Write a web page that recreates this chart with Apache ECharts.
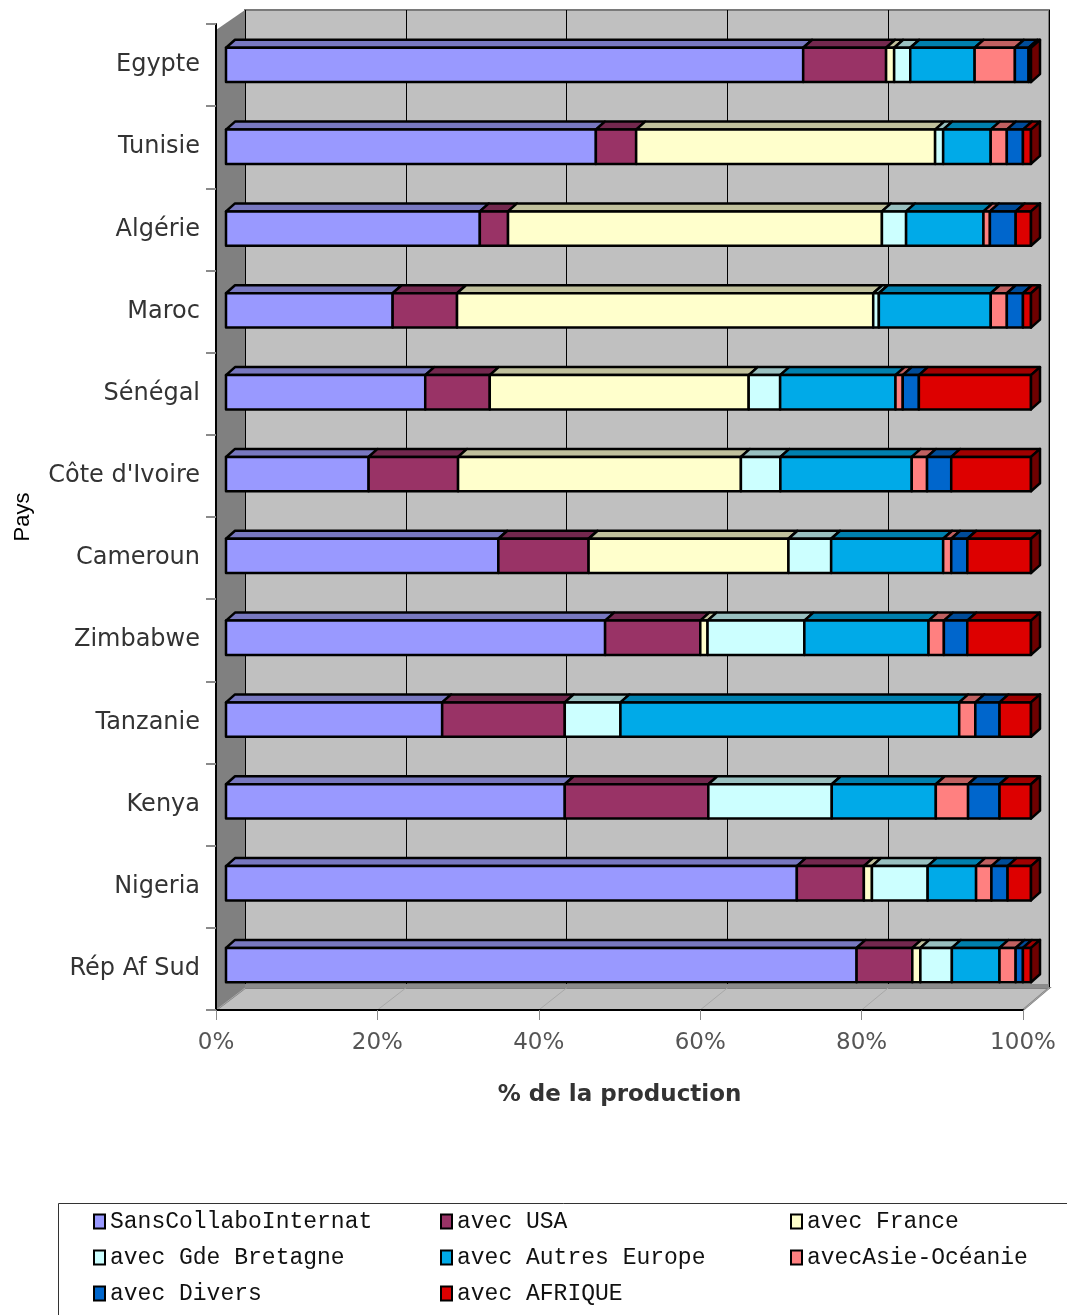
<!DOCTYPE html>
<html>
<head>
<meta charset="utf-8">
<title>Collaborations internationales par pays</title>
<script src="https://cdn.jsdelivr.net/npm/echarts@6/dist/echarts.min.js"></script>
<style>
  html, body { margin: 0; padding: 0; background: #ffffff; }
  #chart { width: 1067px; height: 1315px; }
</style>
</head>
<body>
<div id="chart"></div>
<script>
// ---- data ---------------------------------------------------------------
const categories = ['Egypte', 'Tunisie', 'Algérie', 'Maroc', 'Sénégal', "Côte d'Ivoire",
  'Cameroun', 'Zimbabwe', 'Tanzanie', 'Kenya', 'Nigeria', 'Rép Af Sud'];

const sansCollabo   = [71.7, 45.9, 31.5, 20.7, 24.7, 17.7, 33.8, 47.0, 26.8, 42.0, 70.7, 78.1];
const avecUSA       = [10.3,  5.0,  3.5,  8.0,  8.0, 11.1, 11.2, 11.8, 15.2, 17.8,  8.3,  6.9];
const avecFrance    = [ 1.0, 37.1, 46.4, 51.7, 32.1, 35.1, 24.8,  0.9,  0.0,  0.0,  1.0,  1.0];
const avecGdeBret   = [ 2.0,  1.0,  3.0,  0.7,  3.9,  4.9,  5.3, 12.0,  6.9, 15.3,  6.9,  3.9];
const avecAutresEur = [ 8.0,  5.9,  9.6, 13.9, 14.3, 16.3, 13.9, 15.4, 42.0, 12.9,  6.0,  5.9];
const avecAsieOce   = [ 5.0,  2.0,  0.8,  2.0,  0.9,  1.9,  1.0,  1.9,  2.0,  4.0,  1.9,  2.0];
const avecDivers    = [ 1.7,  2.0,  3.2,  2.0,  2.0,  3.0,  2.0,  2.9,  3.0,  3.9,  2.0,  0.9];
const avecAfrique   = [ 0.3,  1.0,  1.9,  1.0, 13.9,  9.9,  7.9,  7.9,  3.9,  3.9,  2.9,  1.0];

const xTicks = [0, 20, 40, 60, 80, 100];

// series: name, values, front / top / side colours
const seriesDefs = [
  { name: 'SansCollaboInternat', values: sansCollabo,   front: '#9999FF', top: '#7878C0', side: '#5a5a99' },
  { name: 'avec USA',            values: avecUSA,       front: '#993366', top: '#73284E', side: '#561d3a' },
  { name: 'avec France',         values: avecFrance,    front: '#FFFFCC', top: '#C0C09C', side: '#999975' },
  { name: 'avec Gde Bretagne',   values: avecGdeBret,   front: '#CCFFFF', top: '#99C0C0', side: '#739999' },
  { name: 'avec Autres Europe',  values: avecAutresEur, front: '#00AAE8', top: '#0080AE', side: '#005f82' },
  { name: 'avecAsie-Océanie',    values: avecAsieOce,   front: '#FF8080', top: '#C06060', side: '#994848' },
  { name: 'avec Divers',         values: avecDivers,    front: '#0066CC', top: '#004C99', side: '#003366' },
  { name: 'avec AFRIQUE',        values: avecAfrique,   front: '#DD0000', top: '#A00000', side: '#6E0000' }
];

// ---- layout -------------------------------------------------------------
const W = 1067, H = 1315;
const WALL  = { left: 245, right: 1049, top: 10, bottom: 988 };   // back wall
const FRONT = { left: 216, right: 1023, top: 24, bottom: 1010 };  // front edge of floor / side wall
const BARS  = { left: 226, right: 1031, top: 24, bottom: 1006 };  // bar front faces
const DEPTH = { dx: 9, dy: 8 };

// ---- 100% stacking ------------------------------------------------------
const totals = categories.map((_, c) => seriesDefs.reduce((s, d) => s + d.values[c], 0));
const lastIdx = categories.map((_, c) => {
  let k = -1;
  seriesDefs.forEach((d, i) => { if (d.values[c] > 0) k = i; });
  return k;
});
const running = categories.map(() => 0);
const stacked = seriesDefs.map((d, i) => categories.map((_, c) => {
  const pct = d.values[c] / totals[c] * 100;
  const start = running[c];
  running[c] += pct;
  return [start, start + pct, c, i === lastIdx[c] ? 1 : 0];
}));

function makeRender(def) {
  return function (params, api) {
    const s = api.value(0), e = api.value(1), c = api.value(2), last = api.value(3);
    if (e - s <= 0) return null;
    const p0 = api.coord([s, c]);
    const p1 = api.coord([e, c]);
    const h = api.size([0, 1])[1] * 0.42;
    const x0 = p0[0], x1 = p1[0];
    const y0 = p0[1] - h / 2, y1 = p0[1] + h / 2;
    const dx = DEPTH.dx, dy = DEPTH.dy;
    const stroke = { stroke: '#000', lineWidth: 2.5, lineJoin: 'round' };
    const children = [
      { type: 'polygon', shape: { points: [[x0, y0], [x1, y0], [x1 + dx, y0 - dy], [x0 + dx, y0 - dy]] },
        style: Object.assign({ fill: def.top }, stroke) },
      { type: 'rect', shape: { x: x0, y: y0, width: x1 - x0, height: y1 - y0 },
        style: Object.assign({ fill: def.front }, stroke) }
    ];
    if (last) {
      children.push({ type: 'polygon',
        shape: { points: [[x1, y0], [x1 + dx, y0 - dy], [x1 + dx, y1 - dy], [x1, y1]] },
        style: Object.assign({ fill: def.side }, stroke) });
    }
    return { type: 'group', children: children };
  };
}

// ---- walls and floor ----------------------------------------------------
const graphics = [
  { type: 'polygon', z: 1, silent: true,
    shape: { points: [[FRONT.left, 30], [WALL.left, WALL.top], [WALL.left, WALL.bottom], [FRONT.left, FRONT.bottom]] },
    style: { fill: '#808080' } },
  { type: 'polygon', z: 1, silent: true,
    shape: { points: [[FRONT.left, FRONT.bottom], [WALL.left, WALL.bottom], [WALL.right, WALL.bottom], [FRONT.right, FRONT.bottom]] },
    style: { fill: '#C0C0C0', stroke: '#808080', lineWidth: 2 } },
  { type: 'line', z: 1, silent: true,
    shape: { x1: WALL.left, y1: WALL.bottom - 2, x2: WALL.right, y2: WALL.bottom - 2 },
    style: { stroke: '#8c8c8c', lineWidth: 4 } }
];
xTicks.forEach((t) => {
  const f = t / 100;
  graphics.push({ type: 'line', z: 1, silent: true,
    shape: { x1: FRONT.left + f * (FRONT.right - FRONT.left), y1: FRONT.bottom,
             x2: WALL.left + f * (WALL.right - WALL.left), y2: WALL.bottom },
    style: { stroke: '#a8a8a8', lineWidth: 1 } });
});
// legend frame
graphics.push({ type: 'rect', z: 0, silent: true,
  shape: { x: 58.5, y: 1203.5, width: 1030, height: 130 },
  style: { fill: '#fff', stroke: '#333', lineWidth: 1 } });

function legendBlock(names, left) {
  return {
    orient: 'vertical', left: left, top: 1205, itemGap: 13,
    itemWidth: 11, itemHeight: 14, icon: 'rect', z: 4,
    itemStyle: { borderColor: '#000', borderWidth: 2 },
    textStyle: { fontFamily: 'Liberation Mono', fontSize: 23, color: '#111', lineHeight: 23 },
    data: names
  };
}

const option = {
  animation: false,
  backgroundColor: '#ffffff',
  graphic: { elements: graphics },
  grid: [
    { left: WALL.left, right: W - WALL.right, top: WALL.top, bottom: H - WALL.bottom,
      show: true, backgroundColor: '#C0C0C0', borderColor: '#7a7a7a', borderWidth: 2, z: 0 },
    { left: FRONT.left, right: W - FRONT.right, top: FRONT.top, bottom: H - FRONT.bottom },
    { left: BARS.left, right: W - BARS.right, top: BARS.top, bottom: H - BARS.bottom }
  ],
  xAxis: [
    { gridIndex: 0, type: 'value', min: 0, max: 100, interval: 20, z: 0,
      axisLine: { show: false }, axisTick: { show: false }, axisLabel: { show: false },
      splitLine: { show: true, lineStyle: { color: '#000', width: 1 } } },
    { gridIndex: 1, type: 'value', min: 0, max: 100, interval: 20, z: 5,
      axisLine: { show: true, lineStyle: { color: '#000', width: 2 } },
      axisTick: { show: true, length: 10, lineStyle: { color: '#8a8a8a', width: 1 } },
      axisLabel: { formatter: '{value}%', fontFamily: 'DejaVu Sans', fontSize: 23, color: '#555', margin: 22 },
      splitLine: { show: false },
      name: '% de la production', nameLocation: 'middle', nameGap: 74,
      nameTextStyle: { fontFamily: 'DejaVu Sans', fontSize: 23, fontWeight: 'bold', color: '#333' } },
    { gridIndex: 2, type: 'value', min: 0, max: 100, show: false }
  ],
  yAxis: [
    { gridIndex: 0, type: 'category', data: categories, inverse: true, show: false },
    { gridIndex: 1, type: 'category', data: categories, inverse: true, z: 5,
      axisLine: { show: true, lineStyle: { color: '#000', width: 2 } },
      axisTick: { show: true, length: 10, lineStyle: { color: '#8a8a8a', width: 2 } },
      axisLabel: { fontFamily: 'DejaVu Sans', fontSize: 24, color: '#333', margin: 16 },
      name: 'Pays', nameLocation: 'middle', nameRotate: 90, nameGap: 182,
      nameTextStyle: { fontFamily: 'Liberation Sans', fontSize: 22, color: '#000' } },
    { gridIndex: 2, type: 'category', data: categories, inverse: true, show: false }
  ],
  legend: [
    legendBlock([seriesDefs[0].name, seriesDefs[3].name, seriesDefs[6].name], 88),
    legendBlock([seriesDefs[1].name, seriesDefs[4].name, seriesDefs[7].name], 435),
    legendBlock([seriesDefs[2].name, seriesDefs[5].name], 785)
  ],
  series: seriesDefs.map((d, i) => ({
    type: 'custom',
    name: d.name,
    xAxisIndex: 2, yAxisIndex: 2,
    z: 3,
    clip: false,
    itemStyle: { color: d.front },
    encode: { x: [0, 1], y: 2 },
    data: stacked[i],
    renderItem: makeRender(d)
  }))
};

const chart = echarts.init(document.getElementById('chart'), null, { renderer: 'canvas' });
chart.setOption(option);
</script>
</body>
</html>
